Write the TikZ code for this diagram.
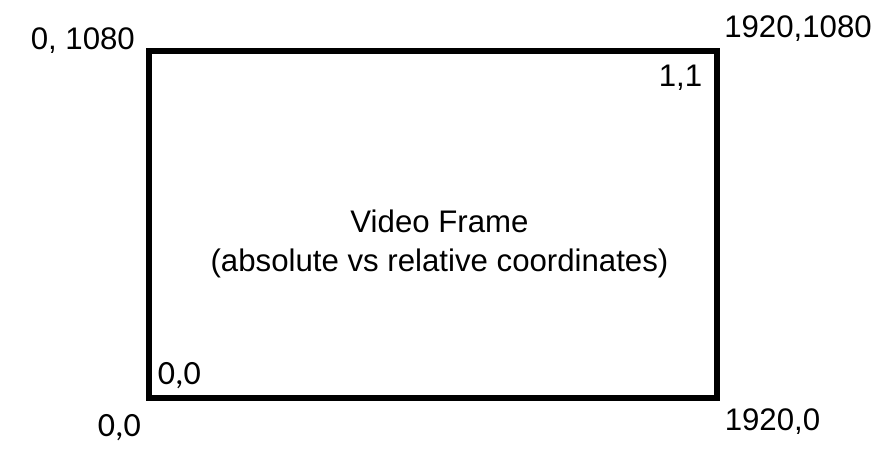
\documentclass[tikz,border=0pt]{standalone}
\usepackage{fontspec}
\setmainfont{Liberation Sans}
\newfontfamily\calibrifont{Carlito}
\begin{document}
\begin{tikzpicture}[x=0.75pt,y=0.75pt,yscale=-1,xscale=1,
  coordtext/.style={inner sep=0pt,font=\fontsize{23.4}{29.25}\selectfont},
  zerotext/.style={inner sep=0pt,font=\calibrifont\fontsize{25.5}{30}\selectfont}]
\useasboundingbox (0,0) rectangle (886,455);
%Shape: Rectangle
\coordinate (tl) at (149,51);
\coordinate (br) at (717,398);
\draw [line width=4.5pt]  (tl) rectangle (br) ;
% Text Node
\node (abstl) [coordtext,anchor=base west] at (30.5,49) {0, 1080};
% Text Node
\node (abstr) [coordtext,anchor=base west] at (724,37) {1920,1080};
% Text Node
\node (reltr) [coordtext,anchor=base west] at (658.5,86.5) {1,1};
% Text Node
\node (absbr) [coordtext,anchor=base west] at (724.5,430.5) {1920,0};
% Text Node
\node (title) [coordtext,anchor=base,align=center] at (439.5,271.7) {Video Frame\\(absolute vs relative coordinates)};
% Text Node
\node (relbl) [zerotext,anchor=base west] at (157.5,384) {0,0};
% Text Node
\node (absbl) [zerotext,anchor=base west] at (97.5,436) {0,0};
\end{tikzpicture}
\end{document}
